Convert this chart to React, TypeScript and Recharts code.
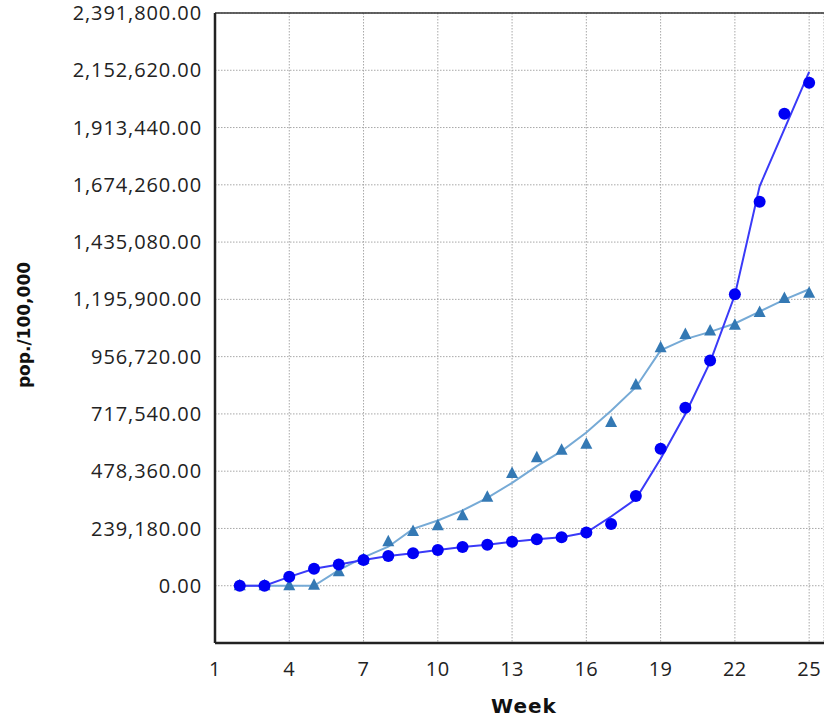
import React from "react";
import {
  ComposedChart,
  Line,
  XAxis,
  YAxis,
  CartesianGrid,
  ReferenceLine,
} from "recharts";

const weeks = [2, 3, 4, 5, 6, 7, 8, 9, 10, 11, 12, 13, 14, 15, 16, 17, 18, 19, 20, 21, 22, 23, 24, 25];

const circlePoints = [
  0, 0, 37000, 70600, 89100, 107200, 124000, 135300, 149200, 161800, 171500, 184100,
  194200, 202600, 221900, 257300, 375000, 572500, 743200, 940700, 1216900, 1603600,
  1970600, 2100900,
];

const circleFit = [
  0, 0, 37000, 70600, 89100, 107200, 124000, 135300, 149200, 161800, 171500, 184100,
  194200, 202600, 221900, 289000, 362000, 530000, 717000, 934000, 1214000, 1668000,
  1907000, 2146000,
];

const trianglePoints = [
  0, 0, 0, 2000, 58000, 110000, 184100, 226100, 250100, 292100, 369100, 468700,
  534700, 565400, 590600, 681800, 838600, 994100, 1048800, 1064300, 1087900, 1141200,
  1200000, 1221100,
];

const triangleFit = [
  0, 0, 0, 0, 65000, 118500, 163000, 237500, 272400, 314400, 366500, 429600, 499400,
  562400, 639800, 730600, 829000, 982800, 1030000, 1060100, 1095000, 1145000, 1195000,
  1238000,
];

const xTicks = [1, 4, 7, 10, 13, 16, 19, 22, 25];
const yTicks = [0, 239180, 478360, 717540, 956720, 1195900, 1435080, 1674260, 1913440, 2152620, 2391800];

const data = weeks.map((w, i) => ({
  week: w,
  circlePoints: circlePoints[i],
  circleFit: circleFit[i],
  trianglePoints: trianglePoints[i],
  triangleFit: triangleFit[i],
}));

const CIRCLE_COLOR = "#0000F5";
const CIRCLE_LINE = "#3a3af8";
const TRI_COLOR = "#3479b4";
const TRI_LINE = "#76aad6";

const fmt = (v: number) =>
  v.toLocaleString("en-US", { minimumFractionDigits: 2, maximumFractionDigits: 2 });

const renderCircle = (p: any) => {
  const { cx, cy, index } = p;
  if (cx == null || cy == null) return <g key={`c${index}`} />;
  return <circle key={`c${index}`} cx={cx} cy={cy} r={6} fill={CIRCLE_COLOR} />;
};

const renderTriangle = (p: any) => {
  const { cx, cy, index } = p;
  if (cx == null || cy == null) return <g key={`t${index}`} />;
  const pts = `${cx},${cy - 7} ${cx - 6},${cy + 4.5} ${cx + 6},${cy + 4.5}`;
  return <polygon key={`t${index}`} points={pts} fill={TRI_COLOR} />;
};

const yTickFont = { fontFamily: "'Open Sans', sans-serif", fontSize: 20, fill: "#222", letterSpacing: 0.9 };
const xTickFont = { fontFamily: "'Open Sans', sans-serif", fontSize: 20, fill: "#222", letterSpacing: 0.5 };

export default function App() {
  return (
    <div style={{ position: "absolute", left: 0, top: 0, width: 824, height: 717, background: "#fff" }}>
      <ComposedChart
        width={824}
        height={717}
        data={data}
        margin={{ top: 13, right: 0, bottom: 0, left: 0 }}
      >
        <CartesianGrid stroke="#a8a8a8" strokeDasharray="1.5 1.5" strokeWidth={1} />
        <XAxis
          dataKey="week"
          type="number"
          domain={[1, 25.6]}
          allowDataOverflow
          ticks={xTicks}
          tickSize={0}
          tickMargin={19}
          tickLine={false}
          height={74}
          axisLine={{ stroke: "#222", strokeWidth: 2.5 }}
          tick={xTickFont}
          label={{
            content: () => (
              <text
                x={524}
                y={713}
                textAnchor="middle"
                style={{ fontFamily: "'DejaVu Sans', sans-serif", fontWeight: "bold", fontSize: 20, letterSpacing: 1 }}
                fill="#111"
              >
                Week
              </text>
            ),
          }}
        />
        <YAxis
          type="number"
          domain={[-239180, 2391800]}
          allowDataOverflow
          ticks={yTicks}
          tickFormatter={fmt}
          tickSize={0}
          tickMargin={13}
          tickLine={false}
          width={215}
          axisLine={{ stroke: "#222", strokeWidth: 2.5 }}
          tick={yTickFont}
          label={{
            content: () => (
              <text
                x={24}
                y={325}
                textAnchor="middle"
                dominantBaseline="central"
                transform="rotate(-90, 24, 325)"
                style={{ fontFamily: "'DejaVu Sans', sans-serif", fontWeight: "bold", fontSize: 17 }}
                fill="#111"
              >
                pop./100,000
              </text>
            ),
          }}
        />
        <ReferenceLine y={2391800} stroke="#333" strokeWidth={1.5} ifOverflow="extendDomain" />
        <Line
          dataKey="triangleFit"
          type="linear"
          stroke={TRI_LINE}
          strokeWidth={2}
          dot={false}
          activeDot={false}
          isAnimationActive={false}
        />
        <Line
          dataKey="trianglePoints"
          stroke="none"
          dot={renderTriangle}
          activeDot={false}
          isAnimationActive={false}
        />
        <Line
          dataKey="circleFit"
          type="linear"
          stroke={CIRCLE_LINE}
          strokeWidth={2}
          dot={false}
          activeDot={false}
          isAnimationActive={false}
        />
        <Line
          dataKey="circlePoints"
          stroke="none"
          dot={renderCircle}
          activeDot={false}
          isAnimationActive={false}
        />
      </ComposedChart>
    </div>
  );
}
